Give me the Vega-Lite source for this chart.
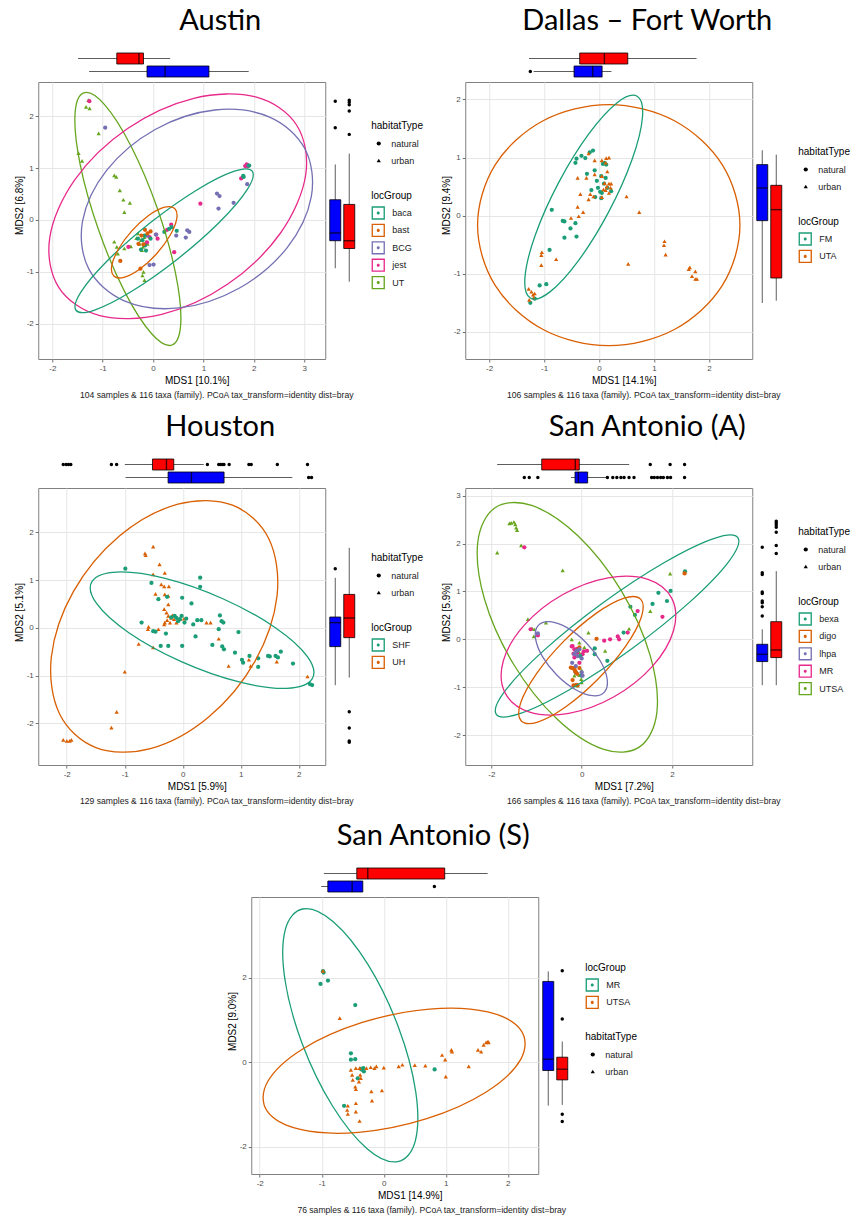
{
  "$schema": "https://vega.github.io/schema/vega-lite/v6.json",
  "background": "white",
  "autosize": {"type": "pad"},
  "padding": {"left": 13, "top": 7, "right": 0, "bottom": 0},
  "config": {
    "font": "Liberation Sans",
    "view": {"stroke": "#808080", "strokeWidth": 1},
    "axis": {"domain": false, "grid": true, "gridColor": "#e6e6e6", "gridWidth": 1, "tickColor": "#4d4d4d", "tickSize": 3, "tickWidth": 0.8, "labelFont": "Liberation Sans", "labelFontSize": 8, "labelColor": "#4d4d4d", "labelPadding": 2, "titleFont": "Liberation Sans", "titleFontSize": 10, "titleFontWeight": "normal", "titleColor": "#000000"},
    "legend": {"titleFont": "Liberation Sans", "titleFontSize": 10, "titleFontWeight": "normal", "titleColor": "#000000", "labelFont": "Liberation Sans", "labelFontSize": 9, "labelColor": "#1a1a1a", "padding": 0},
    "title": {"font": "Liberation Sans", "fontWeight": "normal", "color": "#000000"}
  },
  "datasets": {
    "aus_pts": [
      {"x": -1.285, "y": 2.31, "g": "UT", "h": "urban"}, {"x": -1.33, "y": 2.18, "g": "UT", "h": "urban"}, {"x": -1.26, "y": 2.15, "g": "UT", "h": "urban"}, {"x": -1.08, "y": 1.67, "g": "UT", "h": "urban"}, {"x": -1.48, "y": 1.29, "g": "UT", "h": "urban"}, {"x": -1.41, "y": 1.14, "g": "UT", "h": "urban"}, {"x": -0.77, "y": 0.86, "g": "UT", "h": "urban"}, {"x": -0.73, "y": 0.83, "g": "UT", "h": "urban"}, {"x": -0.66, "y": 0.57, "g": "UT", "h": "urban"}, {"x": -0.59, "y": 0.39, "g": "UT", "h": "urban"}, {"x": -0.46, "y": 0.33, "g": "UT", "h": "urban"}, {"x": -0.57, "y": 0.15, "g": "UT", "h": "urban"}, {"x": -0.77, "y": -0.42, "g": "UT", "h": "urban"}, {"x": -0.72, "y": -0.52, "g": "UT", "h": "urban"}, {"x": -0.7, "y": -0.65, "g": "UT", "h": "urban"}, {"x": -0.57, "y": -0.55, "g": "UT", "h": "urban"}, {"x": -0.44, "y": -0.51, "g": "UT", "h": "urban"}, {"x": -0.3, "y": -0.26, "g": "UT", "h": "urban"}, {"x": -0.24, "y": -0.39, "g": "UT", "h": "urban"}, {"x": -0.21, "y": -1.07, "g": "UT", "h": "urban"}, {"x": -0.17, "y": -1.16, "g": "UT", "h": "urban"}, {"x": -0.27, "y": -0.46, "g": "UT", "h": "urban"}, {"x": -0.17, "y": -0.33, "g": "UT", "h": "urban"}, {"x": -0.11, "y": -0.46, "g": "UT", "h": "urban"}, {"x": -0.2, "y": -0.52, "g": "UT", "h": "urban"}, {"x": -0.14, "y": -0.42, "g": "UT", "h": "urban"}, {"x": -0.22, "y": -0.58, "g": "UT", "h": "urban"}, {"x": -0.33, "y": -0.35, "g": "UT", "h": "urban"}, {"x": -0.19, "y": -1.0, "g": "UT", "h": "urban"},
      {"x": -1.265, "y": 2.29, "g": "jest", "h": "natural"}, {"x": 0.94, "y": 0.315, "g": "jest", "h": "natural"}, {"x": 1.88, "y": 1.035, "g": "jest", "h": "natural"}, {"x": 1.86, "y": 1.07, "g": "jest", "h": "natural"}, {"x": 1.75, "y": 0.8, "g": "jest", "h": "natural"}, {"x": 0.42, "y": -0.62, "g": "jest", "h": "natural"}, {"x": -0.49, "y": -0.52, "g": "jest", "h": "natural"}, {"x": 0.06, "y": -0.28, "g": "jest", "h": "natural"}, {"x": 0.36, "y": -0.09, "g": "jest", "h": "natural"}, {"x": 0.28, "y": -0.19, "g": "jest", "h": "natural"}, {"x": -0.07, "y": -0.33, "g": "jest", "h": "natural"}, {"x": 0.09, "y": -0.36, "g": "jest", "h": "natural"}, {"x": -0.16, "y": -0.48, "g": "jest", "h": "natural"}, {"x": -0.12, "y": -0.43, "g": "jest", "h": "natural"}, {"x": 1.83, "y": 1.04, "g": "jest", "h": "natural"},
      {"x": -0.95, "y": 1.78, "g": "BCG", "h": "natural"}, {"x": 1.27, "y": 0.51, "g": "BCG", "h": "natural"}, {"x": 1.32, "y": 0.46, "g": "BCG", "h": "natural"}, {"x": 1.3, "y": 0.22, "g": "BCG", "h": "natural"}, {"x": 1.6, "y": 0.33, "g": "BCG", "h": "natural"}, {"x": 1.87, "y": 0.69, "g": "BCG", "h": "natural"}, {"x": 1.89, "y": 1.05, "g": "BCG", "h": "natural"}, {"x": 0.68, "y": -0.2, "g": "BCG", "h": "natural"}, {"x": 0.72, "y": -0.23, "g": "BCG", "h": "natural"}, {"x": 0.65, "y": -0.34, "g": "BCG", "h": "natural"}, {"x": 0.46, "y": -0.3, "g": "BCG", "h": "natural"}, {"x": 0.06, "y": -0.28, "g": "BCG", "h": "natural"}, {"x": 0.01, "y": -0.86, "g": "BCG", "h": "natural"}, {"x": -0.07, "y": -0.87, "g": "BCG", "h": "natural"}, {"x": -0.12, "y": -0.3, "g": "BCG", "h": "natural"},
      {"x": 1.8, "y": 0.83, "g": "baca", "h": "natural"}, {"x": 1.79, "y": 0.85, "g": "baca", "h": "natural"}, {"x": 1.91, "y": 1.05, "g": "baca", "h": "natural"}, {"x": 0.47, "y": -0.21, "g": "baca", "h": "natural"}, {"x": 0.32, "y": -0.17, "g": "baca", "h": "natural"}, {"x": 0.225, "y": -0.23, "g": "baca", "h": "natural"}, {"x": -0.17, "y": -0.3, "g": "baca", "h": "natural"}, {"x": -0.21, "y": -0.39, "g": "baca", "h": "natural"}, {"x": -0.16, "y": -0.49, "g": "baca", "h": "natural"}, {"x": -0.24, "y": -0.57, "g": "baca", "h": "natural"}, {"x": -0.14, "y": -0.59, "g": "baca", "h": "natural"}, {"x": -0.3, "y": -0.36, "g": "baca", "h": "natural"}, {"x": -0.05, "y": -0.36, "g": "baca", "h": "natural"}, {"x": 0.37, "y": -0.14, "g": "baca", "h": "natural"},
      {"x": -0.65, "y": -0.79, "g": "bast", "h": "natural"}, {"x": -0.25, "y": -0.94, "g": "bast", "h": "natural"}, {"x": -0.16, "y": -0.19, "g": "bast", "h": "natural"}, {"x": -0.11, "y": -0.26, "g": "bast", "h": "natural"}, {"x": -0.29, "y": -0.46, "g": "bast", "h": "natural"}, {"x": -0.19, "y": -0.47, "g": "bast", "h": "natural"}, {"x": -0.23, "y": -0.3, "g": "bast", "h": "natural"}, {"x": -0.05, "y": -0.22, "g": "bast", "h": "natural"}
    ],
    "aus_ell": [
      {"g": "UT", "i": 0, "x": -1.377, "y": 2.45}, {"g": "UT", "i": 1, "x": -0.968, "y": 2.229}, {"g": "UT", "i": 2, "x": -0.434, "y": 1.417}, {"g": "UT", "i": 3, "x": 0.083, "y": 0.23}, {"g": "UT", "i": 4, "x": 0.444, "y": -1.013}, {"g": "UT", "i": 5, "x": 0.551, "y": -1.979}, {"g": "UT", "i": 6, "x": 0.377, "y": -2.41}, {"g": "UT", "i": 7, "x": -0.032, "y": -2.189}, {"g": "UT", "i": 8, "x": -0.567, "y": -1.377}, {"g": "UT", "i": 9, "x": -1.083, "y": -0.19}, {"g": "UT", "i": 10, "x": -1.444, "y": 1.053}, {"g": "UT", "i": 11, "x": -1.551, "y": 2.019},
      {"g": "jest", "i": 0, "x": 2.85, "y": 1.831}, {"g": "jest", "i": 1, "x": 2.037, "y": 2.371}, {"g": "jest", "i": 2, "x": 0.808, "y": 2.346}, {"g": "jest", "i": 3, "x": -0.505, "y": 1.763}, {"g": "jest", "i": 4, "x": -1.552, "y": 0.779}, {"g": "jest", "i": 5, "x": -2.052, "y": -0.344}, {"g": "jest", "i": 6, "x": -1.87, "y": -1.303}, {"g": "jest", "i": 7, "x": -1.057, "y": -1.843}, {"g": "jest", "i": 8, "x": 0.172, "y": -1.818}, {"g": "jest", "i": 9, "x": 1.485, "y": -1.235}, {"g": "jest", "i": 10, "x": 2.532, "y": -0.251}, {"g": "jest", "i": 11, "x": 3.032, "y": 0.872},
      {"g": "BCG", "i": 0, "x": 3.016, "y": 1.372}, {"g": "BCG", "i": 1, "x": 2.314, "y": 1.983}, {"g": "BCG", "i": 2, "x": 1.226, "y": 2.12}, {"g": "BCG", "i": 3, "x": 0.042, "y": 1.745}, {"g": "BCG", "i": 4, "x": -0.919, "y": 0.96}, {"g": "BCG", "i": 5, "x": -1.401, "y": -0.026}, {"g": "BCG", "i": 6, "x": -1.274, "y": -0.948}, {"g": "BCG", "i": 7, "x": -0.572, "y": -1.559}, {"g": "BCG", "i": 8, "x": 0.516, "y": -1.696}, {"g": "BCG", "i": 9, "x": 1.7, "y": -1.321}, {"g": "BCG", "i": 10, "x": 2.661, "y": -0.536}, {"g": "BCG", "i": 11, "x": 3.143, "y": 0.45},
      {"g": "baca", "i": 0, "x": 1.97, "y": 0.94}, {"g": "baca", "i": 1, "x": 1.601, "y": 0.936}, {"g": "baca", "i": 2, "x": 0.862, "y": 0.574}, {"g": "baca", "i": 3, "x": -0.049, "y": -0.049}, {"g": "baca", "i": 4, "x": -0.888, "y": -0.766}, {"g": "baca", "i": 5, "x": -1.43, "y": -1.385}, {"g": "baca", "i": 6, "x": -1.53, "y": -1.74}, {"g": "baca", "i": 7, "x": -1.161, "y": -1.736}, {"g": "baca", "i": 8, "x": -0.422, "y": -1.374}, {"g": "baca", "i": 9, "x": 0.489, "y": -0.751}, {"g": "baca", "i": 10, "x": 1.328, "y": -0.034}, {"g": "baca", "i": 11, "x": 1.87, "y": 0.585},
      {"g": "bast", "i": 0, "x": 0.43, "y": 0.22}, {"g": "bast", "i": 1, "x": 0.228, "y": 0.246}, {"g": "bast", "i": 2, "x": -0.082, "y": 0.09}, {"g": "bast", "i": 3, "x": -0.417, "y": -0.205}, {"g": "bast", "i": 4, "x": -0.687, "y": -0.56}, {"g": "bast", "i": 5, "x": -0.82, "y": -0.881}, {"g": "bast", "i": 6, "x": -0.78, "y": -1.08}, {"g": "bast", "i": 7, "x": -0.578, "y": -1.106}, {"g": "bast", "i": 8, "x": -0.268, "y": -0.95}, {"g": "bast", "i": 9, "x": 0.067, "y": -0.655}, {"g": "bast", "i": 10, "x": 0.337, "y": -0.3}, {"g": "bast", "i": 11, "x": 0.47, "y": 0.021}
    ],
    "aus_box": [
      {"ax": "MDS1", "h": "natural", "lo": -1.27, "q1": -0.12, "med": 0.24, "q3": 1.11, "hi": 1.9},
      {"ax": "MDS1", "h": "urban", "lo": -1.49, "q1": -0.72, "med": -0.28, "q3": -0.19, "hi": 0.34},
      {"ax": "MDS2", "h": "natural", "lo": -0.93, "q1": -0.4, "med": -0.25, "q3": 0.39, "hi": 1.07},
      {"ax": "MDS2", "h": "urban", "lo": -1.19, "q1": -0.55, "med": -0.4, "q3": 0.3, "hi": 1.28}
    ],
    "aus_out": [
      {"ax": "MDS2", "h": "natural", "v": 2.29}, {"ax": "MDS2", "h": "natural", "v": 1.78},
      {"ax": "MDS2", "h": "urban", "v": 2.31}, {"ax": "MDS2", "h": "urban", "v": 2.27}, {"ax": "MDS2", "h": "urban", "v": 2.22}, {"ax": "MDS2", "h": "urban", "v": 2.1}, {"ax": "MDS2", "h": "urban", "v": 1.65}
    ],
    "dfw_pts": [
      {"x": -0.41, "y": 0.98, "g": "FM", "h": "natural"}, {"x": -0.43, "y": 0.91, "g": "FM", "h": "natural"}, {"x": -0.32, "y": 1.03, "g": "FM", "h": "natural"}, {"x": -0.25, "y": 0.99, "g": "FM", "h": "natural"}, {"x": -0.17, "y": 1.09, "g": "FM", "h": "natural"}, {"x": -0.11, "y": 1.12, "g": "FM", "h": "natural"}, {"x": -0.22, "y": 0.72, "g": "FM", "h": "natural"}, {"x": -0.04, "y": 0.6, "g": "FM", "h": "natural"}, {"x": -0.02, "y": 0.48, "g": "FM", "h": "natural"}, {"x": 0.02, "y": 0.41, "g": "FM", "h": "natural"}, {"x": 0.12, "y": 0.65, "g": "FM", "h": "natural"}, {"x": 0.05, "y": 0.39, "g": "FM", "h": "natural"}, {"x": 0.15, "y": 0.48, "g": "FM", "h": "natural"}, {"x": 0.22, "y": 0.42, "g": "FM", "h": "natural"}, {"x": -0.07, "y": 0.32, "g": "FM", "h": "natural"}, {"x": 0.04, "y": 0.3, "g": "FM", "h": "natural"}, {"x": 0.04, "y": 0.68, "g": "FM", "h": "natural"}, {"x": 0.07, "y": 0.89, "g": "FM", "h": "natural"}, {"x": 0.1, "y": 0.91, "g": "FM", "h": "natural"}, {"x": -0.86, "y": 0.1, "g": "FM", "h": "natural"}, {"x": -0.66, "y": -0.09, "g": "FM", "h": "natural"}, {"x": -0.63, "y": -0.1, "g": "FM", "h": "natural"}, {"x": -0.43, "y": -0.13, "g": "FM", "h": "natural"}, {"x": -0.52, "y": -0.22, "g": "FM", "h": "natural"}, {"x": -0.41, "y": -0.36, "g": "FM", "h": "natural"}, {"x": -0.63, "y": -0.38, "g": "FM", "h": "natural"}, {"x": -0.9, "y": -0.59, "g": "FM", "h": "natural"}, {"x": -1.08, "y": -1.2, "g": "FM", "h": "natural"}, {"x": -0.96, "y": -1.18, "g": "FM", "h": "natural"}, {"x": -1.17, "y": -1.43, "g": "FM", "h": "natural"}, {"x": -1.25, "y": -1.5, "g": "FM", "h": "natural"}, {"x": -0.08, "y": 0.78, "g": "FM", "h": "natural"}, {"x": -0.14, "y": 0.44, "g": "FM", "h": "natural"}, {"x": 0.13, "y": 0.88, "g": "FM", "h": "natural"}, {"x": 0.09, "y": 0.55, "g": "FM", "h": "natural"},
      {"x": -0.19, "y": 1.07, "g": "UTA", "h": "urban"}, {"x": 0.05, "y": 0.95, "g": "UTA", "h": "urban"}, {"x": 0.13, "y": 0.99, "g": "UTA", "h": "urban"}, {"x": 0.18, "y": 1.0, "g": "UTA", "h": "urban"}, {"x": 0.12, "y": 0.91, "g": "UTA", "h": "urban"}, {"x": -0.08, "y": 0.95, "g": "UTA", "h": "urban"}, {"x": -0.39, "y": 0.65, "g": "UTA", "h": "urban"}, {"x": -0.23, "y": 0.65, "g": "UTA", "h": "urban"}, {"x": -0.08, "y": 0.71, "g": "UTA", "h": "urban"}, {"x": 0.05, "y": 0.68, "g": "UTA", "h": "urban"}, {"x": 0.15, "y": 0.76, "g": "UTA", "h": "urban"}, {"x": 0.1, "y": 0.56, "g": "UTA", "h": "urban"}, {"x": 0.18, "y": 0.55, "g": "UTA", "h": "urban"}, {"x": 0.21, "y": 0.48, "g": "UTA", "h": "urban"}, {"x": 0.22, "y": 0.55, "g": "UTA", "h": "urban"}, {"x": 0.12, "y": 0.44, "g": "UTA", "h": "urban"}, {"x": 0.18, "y": 0.39, "g": "UTA", "h": "urban"}, {"x": -0.34, "y": 0.37, "g": "UTA", "h": "urban"}, {"x": -0.16, "y": 0.37, "g": "UTA", "h": "urban"}, {"x": -0.19, "y": 0.28, "g": "UTA", "h": "urban"}, {"x": -0.1, "y": 0.33, "g": "UTA", "h": "urban"}, {"x": 0.05, "y": 0.32, "g": "UTA", "h": "urban"}, {"x": 0.5, "y": 0.33, "g": "UTA", "h": "urban"}, {"x": 0.73, "y": 0.06, "g": "UTA", "h": "urban"}, {"x": -0.39, "y": 0.15, "g": "UTA", "h": "urban"}, {"x": -0.29, "y": 0.06, "g": "UTA", "h": "urban"}, {"x": -0.37, "y": -0.01, "g": "UTA", "h": "urban"}, {"x": -0.51, "y": -0.04, "g": "UTA", "h": "urban"}, {"x": -1.04, "y": -0.63, "g": "UTA", "h": "urban"}, {"x": -1.05, "y": -0.68, "g": "UTA", "h": "urban"}, {"x": -1.05, "y": -0.85, "g": "UTA", "h": "urban"}, {"x": -0.78, "y": -0.75, "g": "UTA", "h": "urban"}, {"x": 0.53, "y": -0.83, "g": "UTA", "h": "urban"}, {"x": 1.19, "y": -0.44, "g": "UTA", "h": "urban"}, {"x": 1.18, "y": -0.51, "g": "UTA", "h": "urban"}, {"x": 1.21, "y": -0.67, "g": "UTA", "h": "urban"}, {"x": 1.63, "y": -0.92, "g": "UTA", "h": "urban"}, {"x": 1.65, "y": -0.89, "g": "UTA", "h": "urban"}, {"x": 1.69, "y": -1.04, "g": "UTA", "h": "urban"}, {"x": 1.75, "y": -0.96, "g": "UTA", "h": "urban"}, {"x": 1.75, "y": -1.09, "g": "UTA", "h": "urban"}, {"x": 1.78, "y": -1.09, "g": "UTA", "h": "urban"}, {"x": -1.28, "y": -1.26, "g": "UTA", "h": "urban"}, {"x": -1.23, "y": -1.31, "g": "UTA", "h": "urban"}, {"x": -1.2, "y": -1.36, "g": "UTA", "h": "urban"}, {"x": -1.17, "y": -1.34, "g": "UTA", "h": "urban"}, {"x": -1.27, "y": -1.45, "g": "UTA", "h": "urban"}, {"x": -1.19, "y": -1.41, "g": "UTA", "h": "urban"}, {"x": 0.14, "y": 0.5, "g": "UTA", "h": "urban"}, {"x": 0.08, "y": 0.45, "g": "UTA", "h": "urban"}
    ],
    "dfw_ell": [
      {"g": "UTA", "i": 0, "x": 2.561, "y": -0.163}, {"g": "UTA", "i": 1, "x": 2.241, "y": 0.875}, {"g": "UTA", "i": 2, "x": 1.369, "y": 1.634}, {"g": "UTA", "i": 3, "x": 0.176, "y": 1.912}, {"g": "UTA", "i": 4, "x": -1.017, "y": 1.634}, {"g": "UTA", "i": 5, "x": -1.889, "y": 0.875}, {"g": "UTA", "i": 6, "x": -2.209, "y": -0.163}, {"g": "UTA", "i": 7, "x": -1.889, "y": -1.201}, {"g": "UTA", "i": 8, "x": -1.017, "y": -1.96}, {"g": "UTA", "i": 9, "x": 0.176, "y": -2.238}, {"g": "UTA", "i": 10, "x": 1.369, "y": -1.96}, {"g": "UTA", "i": 11, "x": 2.241, "y": -1.201},
      {"g": "FM", "i": 0, "x": 0.692, "y": 2.054}, {"g": "FM", "i": 1, "x": 0.335, "y": 1.948}, {"g": "FM", "i": 2, "x": -0.187, "y": 1.406}, {"g": "FM", "i": 3, "x": -0.733, "y": 0.572}, {"g": "FM", "i": 4, "x": -1.158, "y": -0.33}, {"g": "FM", "i": 5, "x": -1.347, "y": -1.058}, {"g": "FM", "i": 6, "x": -1.25, "y": -1.418}, {"g": "FM", "i": 7, "x": -0.893, "y": -1.312}, {"g": "FM", "i": 8, "x": -0.371, "y": -0.77}, {"g": "FM", "i": 9, "x": 0.175, "y": 0.064}, {"g": "FM", "i": 10, "x": 0.6, "y": 0.966}, {"g": "FM", "i": 11, "x": 0.789, "y": 1.694}
    ],
    "dfw_box": [
      {"ax": "MDS1", "h": "natural", "lo": -1.19, "q1": -0.455, "med": -0.115, "q3": 0.055, "hi": 0.225},
      {"ax": "MDS1", "h": "urban", "lo": -1.274, "q1": -0.352, "med": 0.097, "q3": 0.522, "hi": 1.772},
      {"ax": "MDS2", "h": "natural", "lo": -1.503, "q1": -0.086, "med": 0.476, "q3": 0.878, "hi": 1.125},
      {"ax": "MDS2", "h": "urban", "lo": -1.463, "q1": -1.073, "med": 0.103, "q3": 0.522, "hi": 1.05}
    ],
    "dfw_out": [
      {"ax": "MDS1", "h": "natural", "v": -1.25}
    ],
    "hou_pts": [
      {"x": -0.51, "y": 1.7, "g": "UH", "h": "urban"}, {"x": -0.65, "y": 1.56, "g": "UH", "h": "urban"}, {"x": -0.64, "y": 1.52, "g": "UH", "h": "urban"}, {"x": -0.4, "y": 1.33, "g": "UH", "h": "urban"}, {"x": -0.51, "y": 1.12, "g": "UH", "h": "urban"}, {"x": -0.31, "y": 1.15, "g": "UH", "h": "urban"}, {"x": -0.37, "y": 0.91, "g": "UH", "h": "urban"}, {"x": -0.32, "y": 0.87, "g": "UH", "h": "urban"}, {"x": -0.24, "y": 0.87, "g": "UH", "h": "urban"}, {"x": -0.47, "y": 0.71, "g": "UH", "h": "urban"}, {"x": -0.31, "y": 0.7, "g": "UH", "h": "urban"}, {"x": -0.25, "y": 0.67, "g": "UH", "h": "urban"}, {"x": -0.25, "y": 0.49, "g": "UH", "h": "urban"}, {"x": -0.32, "y": 0.39, "g": "UH", "h": "urban"}, {"x": -0.28, "y": 0.32, "g": "UH", "h": "urban"}, {"x": -0.25, "y": 0.25, "g": "UH", "h": "urban"}, {"x": -0.2, "y": 0.21, "g": "UH", "h": "urban"}, {"x": -0.15, "y": 0.18, "g": "UH", "h": "urban"}, {"x": -0.22, "y": 0.11, "g": "UH", "h": "urban"}, {"x": -0.11, "y": 0.11, "g": "UH", "h": "urban"}, {"x": -0.05, "y": 0.18, "g": "UH", "h": "urban"}, {"x": 0.02, "y": 0.19, "g": "UH", "h": "urban"}, {"x": -0.31, "y": 0.11, "g": "UH", "h": "urban"}, {"x": -0.59, "y": 0.02, "g": "UH", "h": "urban"}, {"x": -0.42, "y": -0.03, "g": "UH", "h": "urban"}, {"x": -0.6, "y": -0.03, "g": "UH", "h": "urban"}, {"x": -0.76, "y": -0.34, "g": "UH", "h": "urban"}, {"x": -0.51, "y": -0.41, "g": "UH", "h": "urban"}, {"x": 0.41, "y": 0.11, "g": "UH", "h": "urban"}, {"x": 0.48, "y": 0.11, "g": "UH", "h": "urban"}, {"x": 0.62, "y": -0.23, "g": "UH", "h": "urban"}, {"x": 0.79, "y": -0.8, "g": "UH", "h": "urban"}, {"x": 1.14, "y": -0.67, "g": "UH", "h": "urban"}, {"x": 1.17, "y": -0.8, "g": "UH", "h": "urban"}, {"x": 1.62, "y": -0.71, "g": "UH", "h": "urban"}, {"x": 2.15, "y": -1.02, "g": "UH", "h": "urban"}, {"x": -1.0, "y": -0.92, "g": "UH", "h": "urban"}, {"x": -1.14, "y": -1.76, "g": "UH", "h": "urban"}, {"x": -1.23, "y": -2.09, "g": "UH", "h": "urban"}, {"x": -2.06, "y": -2.35, "g": "UH", "h": "urban"}, {"x": -2.0, "y": -2.37, "g": "UH", "h": "urban"}, {"x": -1.95, "y": -2.37, "g": "UH", "h": "urban"}, {"x": -1.92, "y": -2.35, "g": "UH", "h": "urban"}, {"x": -0.32, "y": 0.07, "g": "UH", "h": "urban"}, {"x": -0.18, "y": 0.26, "g": "UH", "h": "urban"}, {"x": -0.27, "y": 0.16, "g": "UH", "h": "urban"},
      {"x": -0.99, "y": 1.24, "g": "SHF", "h": "natural"}, {"x": -0.54, "y": 0.94, "g": "SHF", "h": "natural"}, {"x": -0.42, "y": 0.6, "g": "SHF", "h": "natural"}, {"x": -0.27, "y": 0.65, "g": "SHF", "h": "natural"}, {"x": -0.01, "y": 0.63, "g": "SHF", "h": "natural"}, {"x": 0.15, "y": 0.51, "g": "SHF", "h": "natural"}, {"x": 0.3, "y": 1.05, "g": "SHF", "h": "natural"}, {"x": 0.3, "y": 0.86, "g": "SHF", "h": "natural"}, {"x": -0.71, "y": 0.11, "g": "SHF", "h": "natural"}, {"x": -0.51, "y": -0.07, "g": "SHF", "h": "natural"}, {"x": -0.47, "y": -0.08, "g": "SHF", "h": "natural"}, {"x": -0.29, "y": -0.12, "g": "SHF", "h": "natural"}, {"x": -0.38, "y": -0.38, "g": "SHF", "h": "natural"}, {"x": -0.25, "y": -0.38, "g": "SHF", "h": "natural"}, {"x": -0.01, "y": -0.38, "g": "SHF", "h": "natural"}, {"x": -0.11, "y": 0.21, "g": "SHF", "h": "natural"}, {"x": -0.05, "y": 0.18, "g": "SHF", "h": "natural"}, {"x": 0.03, "y": 0.11, "g": "SHF", "h": "natural"}, {"x": -0.14, "y": 0.25, "g": "SHF", "h": "natural"}, {"x": 0.18, "y": 0.07, "g": "SHF", "h": "natural"}, {"x": 0.25, "y": 0.16, "g": "SHF", "h": "natural"}, {"x": 0.32, "y": 0.16, "g": "SHF", "h": "natural"}, {"x": 0.22, "y": -0.18, "g": "SHF", "h": "natural"}, {"x": 0.51, "y": -0.36, "g": "SHF", "h": "natural"}, {"x": 0.64, "y": 0.26, "g": "SHF", "h": "natural"}, {"x": 0.67, "y": 0.14, "g": "SHF", "h": "natural"}, {"x": 0.7, "y": 0.11, "g": "SHF", "h": "natural"}, {"x": 0.62, "y": -0.03, "g": "SHF", "h": "natural"}, {"x": 0.68, "y": -0.39, "g": "SHF", "h": "natural"}, {"x": 0.71, "y": -0.45, "g": "SHF", "h": "natural"}, {"x": 0.9, "y": -0.52, "g": "SHF", "h": "natural"}, {"x": 0.96, "y": -0.09, "g": "SHF", "h": "natural"}, {"x": 1.02, "y": -0.67, "g": "SHF", "h": "natural"}, {"x": 1.04, "y": -0.73, "g": "SHF", "h": "natural"}, {"x": 1.15, "y": -0.59, "g": "SHF", "h": "natural"}, {"x": 1.3, "y": -0.82, "g": "SHF", "h": "natural"}, {"x": 1.3, "y": -0.64, "g": "SHF", "h": "natural"}, {"x": 1.47, "y": -0.59, "g": "SHF", "h": "natural"}, {"x": 1.5, "y": -0.6, "g": "SHF", "h": "natural"}, {"x": 1.6, "y": -0.59, "g": "SHF", "h": "natural"}, {"x": 1.64, "y": -0.62, "g": "SHF", "h": "natural"}, {"x": 1.69, "y": -0.5, "g": "SHF", "h": "natural"}, {"x": 1.9, "y": -0.75, "g": "SHF", "h": "natural"}, {"x": 2.19, "y": -1.18, "g": "SHF", "h": "natural"}, {"x": 2.23, "y": -1.2, "g": "SHF", "h": "natural"}, {"x": 0.06, "y": 0.19, "g": "SHF", "h": "natural"}, {"x": -0.02, "y": 0.25, "g": "SHF", "h": "natural"}, {"x": -0.2, "y": 0.22, "g": "SHF", "h": "natural"}, {"x": -0.08, "y": 0.14, "g": "SHF", "h": "natural"}
    ],
    "hou_ell": [
      {"g": "UH", "i": 0, "x": 0.858, "y": 2.569}, {"g": "UH", "i": 1, "x": -0.083, "y": 2.592}, {"g": "UH", "i": 2, "x": -1.087, "y": 1.929}, {"g": "UH", "i": 3, "x": -1.886, "y": 0.757}, {"g": "UH", "i": 4, "x": -2.265, "y": -0.61}, {"g": "UH", "i": 5, "x": -2.123, "y": -1.805}, {"g": "UH", "i": 6, "x": -1.498, "y": -2.509}, {"g": "UH", "i": 7, "x": -0.557, "y": -2.532}, {"g": "UH", "i": 8, "x": 0.447, "y": -1.869}, {"g": "UH", "i": 9, "x": 1.246, "y": -0.697}, {"g": "UH", "i": 10, "x": 1.625, "y": 0.67}, {"g": "UH", "i": 11, "x": 1.483, "y": 1.865},
      {"g": "SHF", "i": 0, "x": 2.227, "y": -1.077}, {"g": "SHF", "i": 1, "x": 2.152, "y": -0.61}, {"g": "SHF", "i": 2, "x": 1.59, "y": 0.008}, {"g": "SHF", "i": 3, "x": 0.691, "y": 0.609}, {"g": "SHF", "i": 4, "x": -0.304, "y": 1.035}, {"g": "SHF", "i": 5, "x": -1.128, "y": 1.169}, {"g": "SHF", "i": 6, "x": -1.561, "y": 0.977}, {"g": "SHF", "i": 7, "x": -1.486, "y": 0.51}, {"g": "SHF", "i": 8, "x": -0.924, "y": -0.108}, {"g": "SHF", "i": 9, "x": -0.025, "y": -0.709}, {"g": "SHF", "i": 10, "x": 0.97, "y": -1.135}, {"g": "SHF", "i": 11, "x": 1.794, "y": -1.269}
    ],
    "hou_box": [
      {"ax": "MDS1", "h": "natural", "lo": -0.987, "q1": -0.253, "med": 0.149, "q3": 0.712, "hi": 1.888},
      {"ax": "MDS1", "h": "urban", "lo": -0.999, "q1": -0.522, "med": -0.281, "q3": -0.155, "hi": 0.362},
      {"ax": "MDS2", "h": "natural", "lo": -1.202, "q1": -0.394, "med": 0.108, "q3": 0.226, "hi": 1.049},
      {"ax": "MDS2", "h": "urban", "lo": -1.042, "q1": -0.206, "med": 0.206, "q3": 0.7, "hi": 1.676}
    ],
    "hou_out": [
      {"ax": "MDS1", "h": "urban", "v": -2.06}, {"ax": "MDS1", "h": "urban", "v": -2.01}, {"ax": "MDS1", "h": "urban", "v": -1.97}, {"ax": "MDS1", "h": "urban", "v": -1.93}, {"ax": "MDS1", "h": "urban", "v": -1.23}, {"ax": "MDS1", "h": "urban", "v": -1.14}, {"ax": "MDS1", "h": "urban", "v": 0.425}, {"ax": "MDS1", "h": "urban", "v": 0.62}, {"ax": "MDS1", "h": "urban", "v": 0.65}, {"ax": "MDS1", "h": "urban", "v": 0.68}, {"ax": "MDS1", "h": "urban", "v": 0.71}, {"ax": "MDS1", "h": "urban", "v": 0.8}, {"ax": "MDS1", "h": "urban", "v": 1.14}, {"ax": "MDS1", "h": "urban", "v": 1.18}, {"ax": "MDS1", "h": "urban", "v": 1.63}, {"ax": "MDS1", "h": "urban", "v": 2.15},
      {"ax": "MDS1", "h": "natural", "v": 2.17}, {"ax": "MDS1", "h": "natural", "v": 2.22},
      {"ax": "MDS2", "h": "natural", "v": 1.237},
      {"ax": "MDS2", "h": "urban", "v": -1.76}, {"ax": "MDS2", "h": "urban", "v": -2.1}, {"ax": "MDS2", "h": "urban", "v": -2.37}, {"ax": "MDS2", "h": "urban", "v": -2.4}
    ],
    "saa_pts": [
      {"x": -1.56, "y": 2.43, "g": "UTSA", "h": "urban"}, {"x": -1.5, "y": 2.45, "g": "UTSA", "h": "urban"}, {"x": -1.47, "y": 2.4, "g": "UTSA", "h": "urban"}, {"x": -1.45, "y": 2.33, "g": "UTSA", "h": "urban"}, {"x": -1.43, "y": 2.28, "g": "UTSA", "h": "urban"}, {"x": -1.6, "y": 2.42, "g": "UTSA", "h": "urban"}, {"x": -1.34, "y": 1.96, "g": "UTSA", "h": "urban"}, {"x": -1.87, "y": 1.81, "g": "UTSA", "h": "urban"}, {"x": -0.42, "y": 1.44, "g": "UTSA", "h": "urban"}, {"x": -1.19, "y": 0.42, "g": "UTSA", "h": "urban"}, {"x": -1.1, "y": 0.23, "g": "UTSA", "h": "urban"}, {"x": -1.05, "y": 0.21, "g": "UTSA", "h": "urban"}, {"x": -1.06, "y": 0.06, "g": "UTSA", "h": "urban"}, {"x": -0.79, "y": 0.35, "g": "UTSA", "h": "urban"}, {"x": 0.15, "y": 0.14, "g": "UTSA", "h": "urban"}, {"x": 0.52, "y": -0.24, "g": "UTSA", "h": "urban"}, {"x": 1.05, "y": 0.22, "g": "UTSA", "h": "urban"}, {"x": 1.52, "y": 0.59, "g": "UTSA", "h": "urban"}, {"x": 1.96, "y": 1.37, "g": "UTSA", "h": "urban"}, {"x": 2.28, "y": 1.42, "g": "UTSA", "h": "urban"}, {"x": -0.22, "y": 0.0, "g": "UTSA", "h": "urban"}, {"x": -0.05, "y": -0.07, "g": "UTSA", "h": "urban"}, {"x": 0.06, "y": -0.17, "g": "UTSA", "h": "urban"}, {"x": -0.16, "y": -0.76, "g": "UTSA", "h": "urban"}, {"x": -0.01, "y": -0.83, "g": "UTSA", "h": "urban"}, {"x": -0.09, "y": -0.97, "g": "UTSA", "h": "urban"}, {"x": -0.1, "y": -0.2, "g": "UTSA", "h": "urban"}, {"x": -0.05, "y": -0.28, "g": "UTSA", "h": "urban"}, {"x": 0.0, "y": -0.65, "g": "UTSA", "h": "urban"}, {"x": -0.05, "y": -0.75, "g": "UTSA", "h": "urban"}, {"x": 0.0, "y": -0.9, "g": "UTSA", "h": "urban"},
      {"x": -1.27, "y": 1.92, "g": "MR", "h": "natural"}, {"x": -1.13, "y": 0.21, "g": "MR", "h": "natural"}, {"x": -0.97, "y": 0.08, "g": "MR", "h": "natural"}, {"x": -0.2, "y": -0.14, "g": "MR", "h": "natural"}, {"x": -0.1, "y": -0.28, "g": "MR", "h": "natural"}, {"x": 0.02, "y": -0.31, "g": "MR", "h": "natural"}, {"x": 0.12, "y": -0.24, "g": "MR", "h": "natural"}, {"x": -0.16, "y": -0.38, "g": "MR", "h": "natural"}, {"x": -0.05, "y": -0.49, "g": "MR", "h": "natural"}, {"x": 0.5, "y": -0.03, "g": "MR", "h": "natural"}, {"x": 0.63, "y": 0.0, "g": "MR", "h": "natural"}, {"x": 0.8, "y": 0.06, "g": "MR", "h": "natural"}, {"x": 0.83, "y": 0.0, "g": "MR", "h": "natural"}, {"x": 1.02, "y": 0.14, "g": "MR", "h": "natural"}, {"x": 1.24, "y": 0.59, "g": "MR", "h": "natural"}, {"x": 1.79, "y": 0.47, "g": "MR", "h": "natural"}, {"x": -0.16, "y": -0.21, "g": "MR", "h": "natural"}, {"x": -0.22, "y": -0.15, "g": "MR", "h": "natural"}, {"x": -0.1, "y": -0.2, "g": "MR", "h": "natural"}, {"x": 0.05, "y": -0.25, "g": "MR", "h": "natural"}, {"x": -0.18, "y": -0.3, "g": "MR", "h": "natural"},
      {"x": 1.08, "y": 0.68, "g": "bexa", "h": "natural"}, {"x": 1.18, "y": 0.51, "g": "bexa", "h": "natural"}, {"x": 1.7, "y": 0.97, "g": "bexa", "h": "natural"}, {"x": 1.57, "y": 0.74, "g": "bexa", "h": "natural"}, {"x": 1.89, "y": 0.8, "g": "bexa", "h": "natural"}, {"x": 1.97, "y": 1.01, "g": "bexa", "h": "natural"}, {"x": 2.29, "y": 1.42, "g": "bexa", "h": "natural"}, {"x": 0.93, "y": 0.14, "g": "bexa", "h": "natural"}, {"x": 0.29, "y": -0.19, "g": "bexa", "h": "natural"}, {"x": 0.29, "y": -0.31, "g": "bexa", "h": "natural"}, {"x": 0.57, "y": -0.45, "g": "bexa", "h": "natural"}, {"x": -0.03, "y": -0.35, "g": "bexa", "h": "natural"}, {"x": -0.13, "y": -0.69, "g": "bexa", "h": "natural"}, {"x": 0.0, "y": -0.76, "g": "bexa", "h": "natural"}, {"x": -0.1, "y": -0.24, "g": "bexa", "h": "natural"},
      {"x": 0.33, "y": 0.01, "g": "digo", "h": "natural"}, {"x": 2.28, "y": 1.375, "g": "digo", "h": "natural"}, {"x": -0.16, "y": -0.6, "g": "digo", "h": "natural"}, {"x": -0.13, "y": -0.69, "g": "digo", "h": "natural"}, {"x": -0.18, "y": -0.96, "g": "digo", "h": "natural"}, {"x": -0.09, "y": -0.96, "g": "digo", "h": "natural"}, {"x": -0.24, "y": -0.59, "g": "digo", "h": "natural"}, {"x": -0.05, "y": -0.17, "g": "digo", "h": "natural"}, {"x": -0.2, "y": -0.6, "g": "digo", "h": "natural"}, {"x": -0.15, "y": -0.65, "g": "digo", "h": "natural"}, {"x": -0.1, "y": -0.72, "g": "digo", "h": "natural"}, {"x": -0.2, "y": -0.85, "g": "digo", "h": "natural"}, {"x": -0.12, "y": -0.95, "g": "digo", "h": "natural"}, {"x": -0.05, "y": -0.6, "g": "digo", "h": "natural"},
      {"x": -0.16, "y": -0.31, "g": "lhpa", "h": "natural"}, {"x": -0.09, "y": -0.35, "g": "lhpa", "h": "natural"}, {"x": -0.05, "y": -0.21, "g": "lhpa", "h": "natural"}, {"x": 0.0, "y": -0.69, "g": "lhpa", "h": "natural"}, {"x": -0.21, "y": -0.49, "g": "lhpa", "h": "natural"}, {"x": -0.13, "y": -0.56, "g": "lhpa", "h": "natural"}, {"x": 0.02, "y": -0.76, "g": "lhpa", "h": "natural"}, {"x": -0.97, "y": 0.125, "g": "lhpa", "h": "natural"}, {"x": -0.12, "y": -0.25, "g": "lhpa", "h": "natural"}, {"x": 0.0, "y": -0.4, "g": "lhpa", "h": "natural"}
    ],
    "saa_ell": [
      {"g": "UTSA", "i": 0, "x": 1.283, "y": -2.247}, {"g": "UTSA", "i": 1, "x": 1.666, "y": -1.53}, {"g": "UTSA", "i": 2, "x": 1.517, "y": -0.336}, {"g": "UTSA", "i": 3, "x": 0.877, "y": 1.015}, {"g": "UTSA", "i": 4, "x": -0.083, "y": 2.161}, {"g": "UTSA", "i": 5, "x": -1.106, "y": 2.795}, {"g": "UTSA", "i": 6, "x": -1.917, "y": 2.747}, {"g": "UTSA", "i": 7, "x": -2.3, "y": 2.03}, {"g": "UTSA", "i": 8, "x": -2.151, "y": 0.836}, {"g": "UTSA", "i": 9, "x": -1.511, "y": -0.515}, {"g": "UTSA", "i": 10, "x": -0.551, "y": -1.661}, {"g": "UTSA", "i": 11, "x": 0.472, "y": -2.295},
      {"g": "bexa", "i": 0, "x": 3.463, "y": 2.118}, {"g": "bexa", "i": 1, "x": 2.941, "y": 2.109}, {"g": "bexa", "i": 2, "x": 1.842, "y": 1.609}, {"g": "bexa", "i": 3, "x": 0.459, "y": 0.753}, {"g": "bexa", "i": 4, "x": -0.836, "y": -0.231}, {"g": "bexa", "i": 5, "x": -1.697, "y": -1.078}, {"g": "bexa", "i": 6, "x": -1.893, "y": -1.562}, {"g": "bexa", "i": 7, "x": -1.371, "y": -1.553}, {"g": "bexa", "i": 8, "x": -0.272, "y": -1.053}, {"g": "bexa", "i": 9, "x": 1.111, "y": -0.197}, {"g": "bexa", "i": 10, "x": 2.406, "y": 0.787}, {"g": "bexa", "i": 11, "x": 3.267, "y": 1.634},
      {"g": "MR", "i": 0, "x": 2.0, "y": 0.85}, {"g": "MR", "i": 1, "x": 1.469, "y": 1.252}, {"g": "MR", "i": 2, "x": 0.585, "y": 1.284}, {"g": "MR", "i": 3, "x": -0.416, "y": 0.936}, {"g": "MR", "i": 4, "x": -1.265, "y": 0.302}, {"g": "MR", "i": 5, "x": -1.734, "y": -0.448}, {"g": "MR", "i": 6, "x": -1.698, "y": -1.114}, {"g": "MR", "i": 7, "x": -1.167, "y": -1.516}, {"g": "MR", "i": 8, "x": -0.283, "y": -1.548}, {"g": "MR", "i": 9, "x": 0.718, "y": -1.2}, {"g": "MR", "i": 10, "x": 1.567, "y": -0.566}, {"g": "MR", "i": 11, "x": 2.036, "y": 0.184},
      {"g": "digo", "i": 0, "x": 1.311, "y": 0.833}, {"g": "digo", "i": 1, "x": 0.944, "y": 0.861}, {"g": "digo", "i": 2, "x": 0.32, "y": 0.542}, {"g": "digo", "i": 3, "x": -0.394, "y": -0.038}, {"g": "digo", "i": 4, "x": -1.006, "y": -0.725}, {"g": "digo", "i": 5, "x": -1.353, "y": -1.333}, {"g": "digo", "i": 6, "x": -1.341, "y": -1.701}, {"g": "digo", "i": 7, "x": -0.974, "y": -1.729}, {"g": "digo", "i": 8, "x": -0.35, "y": -1.41}, {"g": "digo", "i": 9, "x": 0.364, "y": -0.83}, {"g": "digo", "i": 10, "x": 0.976, "y": -0.143}, {"g": "digo", "i": 11, "x": 1.323, "y": 0.465},
      {"g": "lhpa", "i": 0, "x": 0.504, "y": -1.102}, {"g": "lhpa", "i": 1, "x": 0.567, "y": -0.839}, {"g": "lhpa", "i": 2, "x": 0.418, "y": -0.459}, {"g": "lhpa", "i": 3, "x": 0.095, "y": -0.065}, {"g": "lhpa", "i": 4, "x": -0.314, "y": 0.238}, {"g": "lhpa", "i": 5, "x": -0.7, "y": 0.368}, {"g": "lhpa", "i": 6, "x": -0.96, "y": 0.292}, {"g": "lhpa", "i": 7, "x": -1.023, "y": 0.029}, {"g": "lhpa", "i": 8, "x": -0.874, "y": -0.351}, {"g": "lhpa", "i": 9, "x": -0.551, "y": -0.745}, {"g": "lhpa", "i": 10, "x": -0.142, "y": -1.048}, {"g": "lhpa", "i": 11, "x": 0.244, "y": -1.178}
    ],
    "saa_box": [
      {"ax": "MDS1", "h": "natural", "lo": -0.236, "q1": -0.147, "med": -0.074, "q3": 0.133, "hi": 0.538},
      {"ax": "MDS1", "h": "urban", "lo": -1.871, "q1": -0.884, "med": -0.14, "q3": -0.052, "hi": 1.053},
      {"ax": "MDS2", "h": "natural", "lo": -0.958, "q1": -0.465, "med": -0.3125, "q3": -0.104, "hi": 0.208},
      {"ax": "MDS2", "h": "urban", "lo": -0.958, "q1": -0.382, "med": -0.222, "q3": 0.368, "hi": 1.424}
    ],
    "saa_out": [
      {"ax": "MDS1", "h": "urban", "v": 1.52}, {"ax": "MDS1", "h": "urban", "v": 1.96}, {"ax": "MDS1", "h": "urban", "v": 2.28},
      {"ax": "MDS1", "h": "natural", "v": -1.27}, {"ax": "MDS1", "h": "natural", "v": -1.16}, {"ax": "MDS1", "h": "natural", "v": -0.97}, {"ax": "MDS1", "h": "natural", "v": 0.57}, {"ax": "MDS1", "h": "natural", "v": 0.69}, {"ax": "MDS1", "h": "natural", "v": 0.78}, {"ax": "MDS1", "h": "natural", "v": 0.87}, {"ax": "MDS1", "h": "natural", "v": 0.94}, {"ax": "MDS1", "h": "natural", "v": 1.05}, {"ax": "MDS1", "h": "natural", "v": 1.16}, {"ax": "MDS1", "h": "natural", "v": 1.55}, {"ax": "MDS1", "h": "natural", "v": 1.61}, {"ax": "MDS1", "h": "natural", "v": 1.68}, {"ax": "MDS1", "h": "natural", "v": 1.75}, {"ax": "MDS1", "h": "natural", "v": 1.81}, {"ax": "MDS1", "h": "natural", "v": 1.9}, {"ax": "MDS1", "h": "natural", "v": 1.97}, {"ax": "MDS1", "h": "natural", "v": 2.28},
      {"ax": "MDS2", "h": "natural", "v": 1.924}, {"ax": "MDS2", "h": "natural", "v": 1.389}, {"ax": "MDS2", "h": "natural", "v": 1.354}, {"ax": "MDS2", "h": "natural", "v": 0.986}, {"ax": "MDS2", "h": "natural", "v": 0.958}, {"ax": "MDS2", "h": "natural", "v": 0.8}, {"ax": "MDS2", "h": "natural", "v": 0.764}, {"ax": "MDS2", "h": "natural", "v": 0.68}, {"ax": "MDS2", "h": "natural", "v": 0.486},
      {"ax": "MDS2", "h": "urban", "v": 2.465}, {"ax": "MDS2", "h": "urban", "v": 2.431}, {"ax": "MDS2", "h": "urban", "v": 2.389}, {"ax": "MDS2", "h": "urban", "v": 2.34}, {"ax": "MDS2", "h": "urban", "v": 2.236}, {"ax": "MDS2", "h": "urban", "v": 1.958}, {"ax": "MDS2", "h": "urban", "v": 1.792}
    ],
    "sas_pts": [
      {"x": -0.98, "y": 2.15, "g": "MR", "h": "natural"}, {"x": -0.97, "y": 2.12, "g": "MR", "h": "natural"}, {"x": -0.9, "y": 1.93, "g": "MR", "h": "natural"}, {"x": -1.02, "y": 1.85, "g": "MR", "h": "natural"}, {"x": -0.46, "y": 1.35, "g": "MR", "h": "natural"}, {"x": -0.53, "y": 0.21, "g": "MR", "h": "natural"}, {"x": -0.53, "y": 0.06, "g": "MR", "h": "natural"}, {"x": -0.46, "y": 0.07, "g": "MR", "h": "natural"}, {"x": -0.33, "y": -0.14, "g": "MR", "h": "natural"}, {"x": -0.35, "y": -0.18, "g": "MR", "h": "natural"}, {"x": -0.32, "y": -0.22, "g": "MR", "h": "natural"}, {"x": -0.42, "y": -0.38, "g": "MR", "h": "natural"}, {"x": -0.64, "y": -1.03, "g": "MR", "h": "natural"}, {"x": 0.82, "y": -0.17, "g": "MR", "h": "natural"}, {"x": -0.37, "y": -0.16, "g": "MR", "h": "natural"},
      {"x": -0.98, "y": 2.16, "g": "UTSA", "h": "urban"}, {"x": -0.71, "y": 1.04, "g": "UTSA", "h": "urban"}, {"x": -0.53, "y": -0.18, "g": "UTSA", "h": "urban"}, {"x": -0.51, "y": -0.3, "g": "UTSA", "h": "urban"}, {"x": -0.5, "y": -0.42, "g": "UTSA", "h": "urban"}, {"x": -0.45, "y": -0.14, "g": "UTSA", "h": "urban"}, {"x": -0.39, "y": -0.14, "g": "UTSA", "h": "urban"}, {"x": -0.38, "y": -0.3, "g": "UTSA", "h": "urban"}, {"x": -0.37, "y": -0.38, "g": "UTSA", "h": "urban"}, {"x": -0.4, "y": -0.46, "g": "UTSA", "h": "urban"}, {"x": -0.28, "y": -0.14, "g": "UTSA", "h": "urban"}, {"x": -0.21, "y": -0.12, "g": "UTSA", "h": "urban"}, {"x": -0.15, "y": -0.14, "g": "UTSA", "h": "urban"}, {"x": -0.12, "y": -0.1, "g": "UTSA", "h": "urban"}, {"x": 0.0, "y": -0.13, "g": "UTSA", "h": "urban"}, {"x": -0.46, "y": -0.58, "g": "UTSA", "h": "urban"}, {"x": -0.45, "y": -0.64, "g": "UTSA", "h": "urban"}, {"x": -0.2, "y": -0.69, "g": "UTSA", "h": "urban"}, {"x": -0.03, "y": -0.67, "g": "UTSA", "h": "urban"}, {"x": -0.19, "y": -0.91, "g": "UTSA", "h": "urban"}, {"x": -0.45, "y": -0.97, "g": "UTSA", "h": "urban"}, {"x": -0.45, "y": -1.17, "g": "UTSA", "h": "urban"}, {"x": -0.58, "y": -1.03, "g": "UTSA", "h": "urban"}, {"x": -0.59, "y": -1.13, "g": "UTSA", "h": "urban"}, {"x": -0.58, "y": -1.22, "g": "UTSA", "h": "urban"}, {"x": -0.39, "y": -1.39, "g": "UTSA", "h": "urban"}, {"x": 0.24, "y": -0.1, "g": "UTSA", "h": "urban"}, {"x": 0.3, "y": -0.06, "g": "UTSA", "h": "urban"}, {"x": 0.5, "y": -0.07, "g": "UTSA", "h": "urban"}, {"x": 0.67, "y": -0.08, "g": "UTSA", "h": "urban"}, {"x": 0.94, "y": 0.17, "g": "UTSA", "h": "urban"}, {"x": 0.99, "y": 0.06, "g": "UTSA", "h": "urban"}, {"x": 1.09, "y": 0.29, "g": "UTSA", "h": "urban"}, {"x": 1.1, "y": 0.25, "g": "UTSA", "h": "urban"}, {"x": 1.37, "y": -0.1, "g": "UTSA", "h": "urban"}, {"x": 1.0, "y": -0.34, "g": "UTSA", "h": "urban"}, {"x": 1.52, "y": 0.29, "g": "UTSA", "h": "urban"}, {"x": 1.57, "y": 0.25, "g": "UTSA", "h": "urban"}, {"x": 1.61, "y": 0.41, "g": "UTSA", "h": "urban"}, {"x": 1.65, "y": 0.47, "g": "UTSA", "h": "urban"}, {"x": 1.68, "y": 0.49, "g": "UTSA", "h": "urban"}, {"x": 1.69, "y": 0.47, "g": "UTSA", "h": "urban"}
    ],
    "sas_ell": [
      {"g": "MR", "i": 0, "x": -1.305, "y": 3.621}, {"g": "MR", "i": 1, "x": -1.59, "y": 3.122}, {"g": "MR", "i": 2, "x": -1.594, "y": 1.957}, {"g": "MR", "i": 3, "x": -1.315, "y": 0.437}, {"g": "MR", "i": 4, "x": -0.829, "y": -1.03}, {"g": "MR", "i": 5, "x": -0.265, "y": -2.05}, {"g": "MR", "i": 6, "x": 0.225, "y": -2.351}, {"g": "MR", "i": 7, "x": 0.51, "y": -1.852}, {"g": "MR", "i": 8, "x": 0.514, "y": -0.687}, {"g": "MR", "i": 9, "x": 0.235, "y": 0.833}, {"g": "MR", "i": 10, "x": -0.251, "y": 2.3}, {"g": "MR", "i": 11, "x": -0.815, "y": 3.32},
      {"g": "UTSA", "i": 0, "x": 2.216, "y": 0.748}, {"g": "UTSA", "i": 1, "x": 1.678, "y": 1.188}, {"g": "UTSA", "i": 2, "x": 0.736, "y": 1.256}, {"g": "UTSA", "i": 3, "x": -0.359, "y": 0.933}, {"g": "UTSA", "i": 4, "x": -1.313, "y": 0.307}, {"g": "UTSA", "i": 5, "x": -1.871, "y": -0.456}, {"g": "UTSA", "i": 6, "x": -1.883, "y": -1.15}, {"g": "UTSA", "i": 7, "x": -1.345, "y": -1.59}, {"g": "UTSA", "i": 8, "x": -0.403, "y": -1.658}, {"g": "UTSA", "i": 9, "x": 0.692, "y": -1.335}, {"g": "UTSA", "i": 10, "x": 1.646, "y": -0.709}, {"g": "UTSA", "i": 11, "x": 2.204, "y": 0.054}
    ],
    "sas_box": [
      {"ax": "MDS1", "h": "natural", "lo": -1.009, "q1": -0.902, "med": -0.51, "q3": -0.338, "hi": -0.338},
      {"ax": "MDS1", "h": "urban", "lo": -0.966, "q1": -0.435, "med": -0.258, "q3": 0.983, "hi": 1.675},
      {"ax": "MDS2", "h": "natural", "lo": -1.026, "q1": -0.197, "med": 0.071, "q3": 1.909, "hi": 2.146},
      {"ax": "MDS2", "h": "urban", "lo": -1.01, "q1": -0.418, "med": -0.166, "q3": 0.118, "hi": 0.489}
    ],
    "sas_out": [
      {"ax": "MDS1", "h": "natural", "v": 0.816},
      {"ax": "MDS2", "h": "urban", "v": 2.16}, {"ax": "MDS2", "h": "urban", "v": 1.02}, {"ax": "MDS2", "h": "urban", "v": -1.23}, {"ax": "MDS2", "h": "urban", "v": -1.4}
    ]
  },
  "vconcat": [
    {
      "vconcat": [
        {
          "hconcat": [
            {
              "vconcat": [
                {
                  "width": 287, "height": 26, "view": {"stroke": null},
                  "title": {"text": "Austin", "font": "Lato", "fontSize": 29, "fontWeight": "normal", "color": "#000000", "anchor": "middle", "frame": "group", "dx": 38.5, "offset": 16},
                  "data": {"name": "aus_box"},
                  "transform": [{"filter": "datum.ax === 'MDS1'"}],
                  "encoding": {"y": {"field": "h", "type": "nominal", "scale": {"type": "band", "domain": ["urban", "natural"], "paddingInner": 0, "paddingOuter": 0}, "axis": null}},
                  "layer": [
                    {"mark": {"type": "rule", "color": "#333333", "strokeWidth": 0.8}, "encoding": {"x": {"field": "lo", "type": "quantitative", "scale": {"domain": [-2.28, 3.42], "nice": false, "zero": false}, "axis": null}, "x2": {"field": "hi"}}},
                    {"mark": {"type": "bar", "size": 11, "stroke": "#000000", "strokeWidth": 0.8}, "encoding": {"x": {"field": "q1", "type": "quantitative", "scale": {"domain": [-2.28, 3.42], "nice": false, "zero": false}, "axis": null}, "x2": {"field": "q3"}, "fill": {"field": "h", "type": "nominal", "scale": {"domain": ["natural", "urban"], "range": ["#0000ff", "#ff0000"]}, "legend": null}}},
                    {"mark": {"type": "tick", "color": "#000000", "size": 11, "thickness": 1.4}, "encoding": {"x": {"field": "med", "type": "quantitative", "scale": {"domain": [-2.28, 3.42], "nice": false, "zero": false}, "axis": null}}},
                    {"data": {"name": "aus_out"}, "transform": [{"filter": "datum.ax === 'MDS1'"}], "mark": {"type": "circle", "color": "#000000", "size": 12, "opacity": 1}, "encoding": {"x": {"field": "v", "type": "quantitative", "scale": {"domain": [-2.28, 3.42], "nice": false, "zero": false}, "axis": null}}}
                  ]
                },
                {
                  "hconcat": [
                    {
                      "width": 287, "height": 277,
                      "title": {"text": "104 samples & 116 taxa (family). PCoA tax_transform=identity dist=bray", "orient": "bottom", "anchor": "middle", "frame": "group", "dx": 35, "offset": 6, "fontSize": 8.6, "fontWeight": "normal", "color": "#1a1a1a"},
                      "resolve": {"axis": {"x": "independent", "y": "independent"}},
                      "layer": [
                        {
                          "data": {"name": "aus_pts"},
                          "mark": {"type": "point", "filled": true, "size": 18, "opacity": 1},
                          "encoding": {
                            "x": {"field": "x", "type": "quantitative", "scale": {"domain": [-2.28, 3.42], "nice": false, "zero": false}, "axis": {"orient": "bottom", "values": [-2, -1, 0, 1, 2, 3], "title": "MDS1 [10.1%]", "titleX": 158.5, "titleY": 16, "labelExpr": "datum.value + ''"}},
                            "y": {"field": "y", "type": "quantitative", "scale": {"domain": [-2.68, 2.66], "nice": false, "zero": false}, "axis": {"orient": "left", "values": [-2, -1, 0, 1, 2], "title": "MDS2 [6.8%]", "titleX": -14, "titleY": 123, "labelExpr": "datum.value + ''"}},
                            "color": {"field": "g", "type": "nominal", "scale": {"domain": ["baca", "bast", "BCG", "jest", "UT"], "range": ["#1b9e77", "#d95f02", "#7570b3", "#e7298a", "#66a61e"]}, "legend": {"title": "locGroup", "orient": "none", "legendX": 333, "legendY": 109, "symbolType": "M-1,-1H1V1H-1Z M-0.8,-0.8V0.8H0.8V-0.8Z M-0.23,0A0.23,0.23 0 1,1 0.23,0A0.23,0.23 0 1,1 -0.23,0Z", "symbolSize": 177, "symbolStrokeWidth": 0, "rowPadding": 3.4, "titlePadding": 5, "labelOffset": 7}},
                            "shape": {"field": "h", "type": "nominal", "scale": {"domain": ["natural", "urban"], "range": ["circle", "triangle-up"]}, "legend": {"title": "habitatType", "orient": "none", "legendX": 333, "legendY": 39, "symbolSize": 18, "symbolFillColor": "#000000", "symbolStrokeColor": "#000000", "symbolStrokeWidth": 0, "rowPadding": 7, "titlePadding": 8, "symbolOffset": 3, "labelOffset": 8}}
                          }
                        },
                        {
                          "data": {"name": "aus_ell"},
                          "mark": {"type": "line", "interpolate": "cardinal-closed", "strokeWidth": 1.3, "clip": true},
                          "encoding": {
                            "x": {"field": "x", "type": "quantitative", "scale": {"domain": [-2.28, 3.42], "nice": false, "zero": false}, "axis": {"orient": "top", "values": [-1.5, -0.5, 0.5, 1.5, 2.5], "labels": false, "ticks": false, "domain": false, "title": null, "gridColor": "#f2f2f2", "gridWidth": 0.7}},
                            "y": {"field": "y", "type": "quantitative", "scale": {"domain": [-2.68, 2.66], "nice": false, "zero": false}, "axis": {"orient": "right", "values": [-2.5, -1.5, -0.5, 0.5, 1.5, 2.5], "labels": false, "ticks": false, "domain": false, "title": null, "gridColor": "#f2f2f2", "gridWidth": 0.7}},
                            "stroke": {"field": "g", "type": "nominal", "scale": {"domain": ["baca", "bast", "BCG", "jest", "UT"], "range": ["#1b9e77", "#d95f02", "#7570b3", "#e7298a", "#66a61e"]}, "legend": null},
                            "detail": {"field": "g"},
                            "order": {"field": "i", "type": "quantitative"}
                          }
                        }
                      ]
                    },
                    {
                      "width": 28, "height": 277, "view": {"stroke": null},
                      "data": {"name": "aus_box"},
                      "transform": [{"filter": "datum.ax === 'MDS2'"}],
                      "encoding": {"x": {"field": "h", "type": "nominal", "scale": {"type": "band", "domain": ["natural", "urban"], "paddingInner": 0, "paddingOuter": 0}, "axis": null}},
                      "layer": [
                        {"mark": {"type": "rule", "color": "#333333", "strokeWidth": 0.8}, "encoding": {"y": {"field": "lo", "type": "quantitative", "scale": {"domain": [-2.68, 2.66], "nice": false, "zero": false}, "axis": null}, "y2": {"field": "hi"}}},
                        {"mark": {"type": "bar", "size": 11, "stroke": "#000000", "strokeWidth": 0.8}, "encoding": {"y": {"field": "q1", "type": "quantitative", "scale": {"domain": [-2.68, 2.66], "nice": false, "zero": false}, "axis": null}, "y2": {"field": "q3"}, "fill": {"field": "h", "type": "nominal", "scale": {"domain": ["natural", "urban"], "range": ["#0000ff", "#ff0000"]}, "legend": null}}},
                        {"mark": {"type": "tick", "color": "#000000", "size": 11, "thickness": 1.4}, "encoding": {"y": {"field": "med", "type": "quantitative", "scale": {"domain": [-2.68, 2.66], "nice": false, "zero": false}, "axis": null}}},
                        {"data": {"name": "aus_out"}, "transform": [{"filter": "datum.ax === 'MDS2'"}], "mark": {"type": "circle", "color": "#000000", "size": 12, "opacity": 1}, "encoding": {"y": {"field": "v", "type": "quantitative", "scale": {"domain": [-2.68, 2.66], "nice": false, "zero": false}, "axis": null}}}
                      ]
                    }
                  ],
                  "spacing": 3, "bounds": "flush",
                  "resolve": {"scale": {"x": "independent", "y": "independent", "color": "independent", "shape": "independent", "stroke": "independent", "fill": "independent"}}
                }
              ],
              "spacing": 3,
              "resolve": {"scale": {"x": "independent", "y": "independent", "color": "independent", "shape": "independent", "stroke": "independent", "fill": "independent"}}
            },
            {
              "vconcat": [
                {
                  "width": 287, "height": 26, "view": {"stroke": null},
                  "title": {"text": "Dallas – Fort Worth", "font": "Lato", "fontSize": 29, "fontWeight": "normal", "color": "#000000", "anchor": "middle", "frame": "group", "dx": 38.5, "offset": 16},
                  "data": {"name": "dfw_box"},
                  "transform": [{"filter": "datum.ax === 'MDS1'"}],
                  "encoding": {"y": {"field": "h", "type": "nominal", "scale": {"type": "band", "domain": ["urban", "natural"], "paddingInner": 0, "paddingOuter": 0}, "axis": null}},
                  "layer": [
                    {"mark": {"type": "rule", "color": "#333333", "strokeWidth": 0.8}, "encoding": {"x": {"field": "lo", "type": "quantitative", "scale": {"domain": [-2.433, 2.785], "nice": false, "zero": false}, "axis": null}, "x2": {"field": "hi"}}},
                    {"mark": {"type": "bar", "size": 11, "stroke": "#000000", "strokeWidth": 0.8}, "encoding": {"x": {"field": "q1", "type": "quantitative", "scale": {"domain": [-2.433, 2.785], "nice": false, "zero": false}, "axis": null}, "x2": {"field": "q3"}, "fill": {"field": "h", "type": "nominal", "scale": {"domain": ["natural", "urban"], "range": ["#0000ff", "#ff0000"]}, "legend": null}}},
                    {"mark": {"type": "tick", "color": "#000000", "size": 11, "thickness": 1.4}, "encoding": {"x": {"field": "med", "type": "quantitative", "scale": {"domain": [-2.433, 2.785], "nice": false, "zero": false}, "axis": null}}},
                    {"data": {"name": "dfw_out"}, "transform": [{"filter": "datum.ax === 'MDS1'"}], "mark": {"type": "circle", "color": "#000000", "size": 12, "opacity": 1}, "encoding": {"x": {"field": "v", "type": "quantitative", "scale": {"domain": [-2.433, 2.785], "nice": false, "zero": false}, "axis": null}}}
                  ]
                },
                {
                  "hconcat": [
                    {
                      "width": 287, "height": 277,
                      "title": {"text": "106 samples & 116 taxa (family). PCoA tax_transform=identity dist=bray", "orient": "bottom", "anchor": "middle", "frame": "group", "dx": 35, "offset": 6, "fontSize": 8.6, "fontWeight": "normal", "color": "#1a1a1a"},
                      "resolve": {"axis": {"x": "independent", "y": "independent"}},
                      "layer": [
                        {
                          "data": {"name": "dfw_pts"},
                          "mark": {"type": "point", "filled": true, "size": 18, "opacity": 1},
                          "encoding": {
                            "x": {"field": "x", "type": "quantitative", "scale": {"domain": [-2.433, 2.785], "nice": false, "zero": false}, "axis": {"orient": "bottom", "values": [-2, -1, 0, 1, 2], "title": "MDS1 [14.1%]", "titleX": 158.5, "titleY": 16, "labelExpr": "datum.value + ''"}},
                            "y": {"field": "y", "type": "quantitative", "scale": {"domain": [-2.467, 2.3], "nice": false, "zero": false}, "axis": {"orient": "left", "values": [-2, -1, 0, 1, 2], "title": "MDS2 [9.4%]", "titleX": -14, "titleY": 123, "labelExpr": "datum.value + ''"}},
                            "color": {"field": "g", "type": "nominal", "scale": {"domain": ["FM", "UTA"], "range": ["#1b9e77", "#d95f02"]}, "legend": {"title": "locGroup", "orient": "none", "legendX": 333, "legendY": 135, "symbolType": "M-1,-1H1V1H-1Z M-0.8,-0.8V0.8H0.8V-0.8Z M-0.23,0A0.23,0.23 0 1,1 0.23,0A0.23,0.23 0 1,1 -0.23,0Z", "symbolSize": 177, "symbolStrokeWidth": 0, "rowPadding": 3.4, "titlePadding": 5, "labelOffset": 7}},
                            "shape": {"field": "h", "type": "nominal", "scale": {"domain": ["natural", "urban"], "range": ["circle", "triangle-up"]}, "legend": {"title": "habitatType", "orient": "none", "legendX": 333, "legendY": 65, "symbolSize": 18, "symbolFillColor": "#000000", "symbolStrokeColor": "#000000", "symbolStrokeWidth": 0, "rowPadding": 7, "titlePadding": 8, "symbolOffset": 3, "labelOffset": 8}}
                          }
                        },
                        {
                          "data": {"name": "dfw_ell"},
                          "mark": {"type": "line", "interpolate": "cardinal-closed", "strokeWidth": 1.3, "clip": true},
                          "encoding": {
                            "x": {"field": "x", "type": "quantitative", "scale": {"domain": [-2.433, 2.785], "nice": false, "zero": false}, "axis": {"orient": "top", "values": [-1.5, -0.5, 0.5, 1.5, 2.5], "labels": false, "ticks": false, "domain": false, "title": null, "gridColor": "#f2f2f2", "gridWidth": 0.7}},
                            "y": {"field": "y", "type": "quantitative", "scale": {"domain": [-2.467, 2.3], "nice": false, "zero": false}, "axis": {"orient": "right", "values": [-1.5, -0.5, 0.5, 1.5], "labels": false, "ticks": false, "domain": false, "title": null, "gridColor": "#f2f2f2", "gridWidth": 0.7}},
                            "stroke": {"field": "g", "type": "nominal", "scale": {"domain": ["FM", "UTA"], "range": ["#1b9e77", "#d95f02"]}, "legend": null},
                            "detail": {"field": "g"},
                            "order": {"field": "i", "type": "quantitative"}
                          }
                        }
                      ]
                    },
                    {
                      "width": 28, "height": 277, "view": {"stroke": null},
                      "data": {"name": "dfw_box"},
                      "transform": [{"filter": "datum.ax === 'MDS2'"}],
                      "encoding": {"x": {"field": "h", "type": "nominal", "scale": {"type": "band", "domain": ["natural", "urban"], "paddingInner": 0, "paddingOuter": 0}, "axis": null}},
                      "layer": [
                        {"mark": {"type": "rule", "color": "#333333", "strokeWidth": 0.8}, "encoding": {"y": {"field": "lo", "type": "quantitative", "scale": {"domain": [-2.467, 2.3], "nice": false, "zero": false}, "axis": null}, "y2": {"field": "hi"}}},
                        {"mark": {"type": "bar", "size": 11, "stroke": "#000000", "strokeWidth": 0.8}, "encoding": {"y": {"field": "q1", "type": "quantitative", "scale": {"domain": [-2.467, 2.3], "nice": false, "zero": false}, "axis": null}, "y2": {"field": "q3"}, "fill": {"field": "h", "type": "nominal", "scale": {"domain": ["natural", "urban"], "range": ["#0000ff", "#ff0000"]}, "legend": null}}},
                        {"mark": {"type": "tick", "color": "#000000", "size": 11, "thickness": 1.4}, "encoding": {"y": {"field": "med", "type": "quantitative", "scale": {"domain": [-2.467, 2.3], "nice": false, "zero": false}, "axis": null}}},
                        {"data": {"name": "dfw_out"}, "transform": [{"filter": "datum.ax === 'MDS2'"}], "mark": {"type": "circle", "color": "#000000", "size": 12, "opacity": 1}, "encoding": {"y": {"field": "v", "type": "quantitative", "scale": {"domain": [-2.467, 2.3], "nice": false, "zero": false}, "axis": null}}}
                      ]
                    }
                  ],
                  "spacing": 3, "bounds": "flush",
                  "resolve": {"scale": {"x": "independent", "y": "independent", "color": "independent", "shape": "independent", "stroke": "independent", "fill": "independent"}}
                }
              ],
              "spacing": 3,
              "resolve": {"scale": {"x": "independent", "y": "independent", "color": "independent", "shape": "independent", "stroke": "independent", "fill": "independent"}}
            }
          ],
          "spacing": 16,
          "resolve": {"scale": {"x": "independent", "y": "independent", "color": "independent", "shape": "independent", "stroke": "independent", "fill": "independent"}}
        },
        {
          "hconcat": [
            {
              "vconcat": [
                {
                  "width": 287, "height": 26, "view": {"stroke": null},
                  "title": {"text": "Houston", "font": "Lato", "fontSize": 29, "fontWeight": "normal", "color": "#000000", "anchor": "middle", "frame": "group", "dx": 38.5, "offset": 16},
                  "data": {"name": "hou_box"},
                  "transform": [{"filter": "datum.ax === 'MDS1'"}],
                  "encoding": {"y": {"field": "h", "type": "nominal", "scale": {"type": "band", "domain": ["urban", "natural"], "paddingInner": 0, "paddingOuter": 0}, "axis": null}},
                  "layer": [
                    {"mark": {"type": "rule", "color": "#333333", "strokeWidth": 0.8}, "encoding": {"x": {"field": "lo", "type": "quantitative", "scale": {"domain": [-2.491, 2.456], "nice": false, "zero": false}, "axis": null}, "x2": {"field": "hi"}}},
                    {"mark": {"type": "bar", "size": 11, "stroke": "#000000", "strokeWidth": 0.8}, "encoding": {"x": {"field": "q1", "type": "quantitative", "scale": {"domain": [-2.491, 2.456], "nice": false, "zero": false}, "axis": null}, "x2": {"field": "q3"}, "fill": {"field": "h", "type": "nominal", "scale": {"domain": ["natural", "urban"], "range": ["#0000ff", "#ff0000"]}, "legend": null}}},
                    {"mark": {"type": "tick", "color": "#000000", "size": 11, "thickness": 1.4}, "encoding": {"x": {"field": "med", "type": "quantitative", "scale": {"domain": [-2.491, 2.456], "nice": false, "zero": false}, "axis": null}}},
                    {"data": {"name": "hou_out"}, "transform": [{"filter": "datum.ax === 'MDS1'"}], "mark": {"type": "circle", "color": "#000000", "size": 12, "opacity": 1}, "encoding": {"x": {"field": "v", "type": "quantitative", "scale": {"domain": [-2.491, 2.456], "nice": false, "zero": false}, "axis": null}}}
                  ]
                },
                {
                  "hconcat": [
                    {
                      "width": 287, "height": 277,
                      "title": {"text": "129 samples & 116 taxa (family). PCoA tax_transform=identity dist=bray", "orient": "bottom", "anchor": "middle", "frame": "group", "dx": 35, "offset": 6, "fontSize": 8.6, "fontWeight": "normal", "color": "#1a1a1a"},
                      "resolve": {"axis": {"x": "independent", "y": "independent"}},
                      "layer": [
                        {
                          "data": {"name": "hou_pts"},
                          "mark": {"type": "point", "filled": true, "size": 18, "opacity": 1},
                          "encoding": {
                            "x": {"field": "x", "type": "quantitative", "scale": {"domain": [-2.491, 2.456], "nice": false, "zero": false}, "axis": {"orient": "bottom", "values": [-2, -1, 0, 1, 2], "title": "MDS1 [5.9%]", "titleX": 158.5, "titleY": 16, "labelExpr": "datum.value + ''"}},
                            "y": {"field": "y", "type": "quantitative", "scale": {"domain": [-2.875, 2.93], "nice": false, "zero": false}, "axis": {"orient": "left", "values": [-2, -1, 0, 1, 2], "title": "MDS2 [5.1%]", "titleX": -14, "titleY": 124, "labelExpr": "datum.value + ''"}},
                            "color": {"field": "g", "type": "nominal", "scale": {"domain": ["SHF", "UH"], "range": ["#1b9e77", "#d95f02"]}, "legend": {"title": "locGroup", "orient": "none", "legendX": 333, "legendY": 135, "symbolType": "M-1,-1H1V1H-1Z M-0.8,-0.8V0.8H0.8V-0.8Z M-0.23,0A0.23,0.23 0 1,1 0.23,0A0.23,0.23 0 1,1 -0.23,0Z", "symbolSize": 177, "symbolStrokeWidth": 0, "rowPadding": 3.4, "titlePadding": 5, "labelOffset": 7}},
                            "shape": {"field": "h", "type": "nominal", "scale": {"domain": ["natural", "urban"], "range": ["circle", "triangle-up"]}, "legend": {"title": "habitatType", "orient": "none", "legendX": 333, "legendY": 65, "symbolSize": 18, "symbolFillColor": "#000000", "symbolStrokeColor": "#000000", "symbolStrokeWidth": 0, "rowPadding": 7, "titlePadding": 8, "symbolOffset": 3, "labelOffset": 8}}
                          }
                        },
                        {
                          "data": {"name": "hou_ell"},
                          "mark": {"type": "line", "interpolate": "cardinal-closed", "strokeWidth": 1.3, "clip": true},
                          "encoding": {
                            "x": {"field": "x", "type": "quantitative", "scale": {"domain": [-2.491, 2.456], "nice": false, "zero": false}, "axis": {"orient": "top", "values": [-1.5, -0.5, 0.5, 1.5], "labels": false, "ticks": false, "domain": false, "title": null, "gridColor": "#f2f2f2", "gridWidth": 0.7}},
                            "y": {"field": "y", "type": "quantitative", "scale": {"domain": [-2.875, 2.93], "nice": false, "zero": false}, "axis": {"orient": "right", "values": [-2.5, -1.5, -0.5, 0.5, 1.5, 2.5], "labels": false, "ticks": false, "domain": false, "title": null, "gridColor": "#f2f2f2", "gridWidth": 0.7}},
                            "stroke": {"field": "g", "type": "nominal", "scale": {"domain": ["SHF", "UH"], "range": ["#1b9e77", "#d95f02"]}, "legend": null},
                            "detail": {"field": "g"},
                            "order": {"field": "i", "type": "quantitative"}
                          }
                        }
                      ]
                    },
                    {
                      "width": 28, "height": 277, "view": {"stroke": null},
                      "data": {"name": "hou_box"},
                      "transform": [{"filter": "datum.ax === 'MDS2'"}],
                      "encoding": {"x": {"field": "h", "type": "nominal", "scale": {"type": "band", "domain": ["natural", "urban"], "paddingInner": 0, "paddingOuter": 0}, "axis": null}},
                      "layer": [
                        {"mark": {"type": "rule", "color": "#333333", "strokeWidth": 0.8}, "encoding": {"y": {"field": "lo", "type": "quantitative", "scale": {"domain": [-2.875, 2.93], "nice": false, "zero": false}, "axis": null}, "y2": {"field": "hi"}}},
                        {"mark": {"type": "bar", "size": 11, "stroke": "#000000", "strokeWidth": 0.8}, "encoding": {"y": {"field": "q1", "type": "quantitative", "scale": {"domain": [-2.875, 2.93], "nice": false, "zero": false}, "axis": null}, "y2": {"field": "q3"}, "fill": {"field": "h", "type": "nominal", "scale": {"domain": ["natural", "urban"], "range": ["#0000ff", "#ff0000"]}, "legend": null}}},
                        {"mark": {"type": "tick", "color": "#000000", "size": 11, "thickness": 1.4}, "encoding": {"y": {"field": "med", "type": "quantitative", "scale": {"domain": [-2.875, 2.93], "nice": false, "zero": false}, "axis": null}}},
                        {"data": {"name": "hou_out"}, "transform": [{"filter": "datum.ax === 'MDS2'"}], "mark": {"type": "circle", "color": "#000000", "size": 12, "opacity": 1}, "encoding": {"y": {"field": "v", "type": "quantitative", "scale": {"domain": [-2.875, 2.93], "nice": false, "zero": false}, "axis": null}}}
                      ]
                    }
                  ],
                  "spacing": 3, "bounds": "flush",
                  "resolve": {"scale": {"x": "independent", "y": "independent", "color": "independent", "shape": "independent", "stroke": "independent", "fill": "independent"}}
                }
              ],
              "spacing": 3,
              "resolve": {"scale": {"x": "independent", "y": "independent", "color": "independent", "shape": "independent", "stroke": "independent", "fill": "independent"}}
            },
            {
              "vconcat": [
                {
                  "width": 287, "height": 26, "view": {"stroke": null},
                  "title": {"text": "San Antonio (A)", "font": "Lato", "fontSize": 29, "fontWeight": "normal", "color": "#000000", "anchor": "middle", "frame": "group", "dx": 38.5, "offset": 16},
                  "data": {"name": "saa_box"},
                  "transform": [{"filter": "datum.ax === 'MDS1'"}],
                  "encoding": {"y": {"field": "h", "type": "nominal", "scale": {"type": "band", "domain": ["urban", "natural"], "paddingInner": 0, "paddingOuter": 0}, "axis": null}},
                  "layer": [
                    {"mark": {"type": "rule", "color": "#333333", "strokeWidth": 0.8}, "encoding": {"x": {"field": "lo", "type": "quantitative", "scale": {"domain": [-2.578, 3.779], "nice": false, "zero": false}, "axis": null}, "x2": {"field": "hi"}}},
                    {"mark": {"type": "bar", "size": 11, "stroke": "#000000", "strokeWidth": 0.8}, "encoding": {"x": {"field": "q1", "type": "quantitative", "scale": {"domain": [-2.578, 3.779], "nice": false, "zero": false}, "axis": null}, "x2": {"field": "q3"}, "fill": {"field": "h", "type": "nominal", "scale": {"domain": ["natural", "urban"], "range": ["#0000ff", "#ff0000"]}, "legend": null}}},
                    {"mark": {"type": "tick", "color": "#000000", "size": 11, "thickness": 1.4}, "encoding": {"x": {"field": "med", "type": "quantitative", "scale": {"domain": [-2.578, 3.779], "nice": false, "zero": false}, "axis": null}}},
                    {"data": {"name": "saa_out"}, "transform": [{"filter": "datum.ax === 'MDS1'"}], "mark": {"type": "circle", "color": "#000000", "size": 12, "opacity": 1}, "encoding": {"x": {"field": "v", "type": "quantitative", "scale": {"domain": [-2.578, 3.779], "nice": false, "zero": false}, "axis": null}}}
                  ]
                },
                {
                  "hconcat": [
                    {
                      "width": 287, "height": 277,
                      "title": {"text": "166 samples & 116 taxa (family). PCoA tax_transform=identity dist=bray", "orient": "bottom", "anchor": "middle", "frame": "group", "dx": 35, "offset": 6, "fontSize": 8.6, "fontWeight": "normal", "color": "#1a1a1a"},
                      "resolve": {"axis": {"x": "independent", "y": "independent"}},
                      "layer": [
                        {
                          "data": {"name": "saa_pts"},
                          "mark": {"type": "point", "filled": true, "size": 18, "opacity": 1},
                          "encoding": {
                            "x": {"field": "x", "type": "quantitative", "scale": {"domain": [-2.578, 3.779], "nice": false, "zero": false}, "axis": {"orient": "bottom", "values": [-2, 0, 2], "title": "MDS1 [7.2%]", "titleX": 158.5, "titleY": 16, "labelExpr": "datum.value + ''"}},
                            "y": {"field": "y", "type": "quantitative", "scale": {"domain": [-2.625, 3.16], "nice": false, "zero": false}, "axis": {"orient": "left", "values": [-2, -1, 0, 1, 2, 3], "title": "MDS2 [5.9%]", "titleX": -14, "titleY": 124, "labelExpr": "datum.value + ''"}},
                            "color": {"field": "g", "type": "nominal", "scale": {"domain": ["bexa", "digo", "lhpa", "MR", "UTSA"], "range": ["#1b9e77", "#d95f02", "#7570b3", "#e7298a", "#66a61e"]}, "legend": {"title": "locGroup", "orient": "none", "legendX": 333, "legendY": 109, "symbolType": "M-1,-1H1V1H-1Z M-0.8,-0.8V0.8H0.8V-0.8Z M-0.23,0A0.23,0.23 0 1,1 0.23,0A0.23,0.23 0 1,1 -0.23,0Z", "symbolSize": 177, "symbolStrokeWidth": 0, "rowPadding": 3.4, "titlePadding": 5, "labelOffset": 7}},
                            "shape": {"field": "h", "type": "nominal", "scale": {"domain": ["natural", "urban"], "range": ["circle", "triangle-up"]}, "legend": {"title": "habitatType", "orient": "none", "legendX": 333, "legendY": 39, "symbolSize": 18, "symbolFillColor": "#000000", "symbolStrokeColor": "#000000", "symbolStrokeWidth": 0, "rowPadding": 7, "titlePadding": 8, "symbolOffset": 3, "labelOffset": 8}}
                          }
                        },
                        {
                          "data": {"name": "saa_ell"},
                          "mark": {"type": "line", "interpolate": "cardinal-closed", "strokeWidth": 1.3, "clip": true},
                          "encoding": {
                            "x": {"field": "x", "type": "quantitative", "scale": {"domain": [-2.578, 3.779], "nice": false, "zero": false}, "axis": {"orient": "top", "values": [-1, 1, 3], "labels": false, "ticks": false, "domain": false, "title": null, "gridColor": "#f2f2f2", "gridWidth": 0.7}},
                            "y": {"field": "y", "type": "quantitative", "scale": {"domain": [-2.625, 3.16], "nice": false, "zero": false}, "axis": {"orient": "right", "values": [-2.5, -1.5, -0.5, 0.5, 1.5, 2.5], "labels": false, "ticks": false, "domain": false, "title": null, "gridColor": "#f2f2f2", "gridWidth": 0.7}},
                            "stroke": {"field": "g", "type": "nominal", "scale": {"domain": ["bexa", "digo", "lhpa", "MR", "UTSA"], "range": ["#1b9e77", "#d95f02", "#7570b3", "#e7298a", "#66a61e"]}, "legend": null},
                            "detail": {"field": "g"},
                            "order": {"field": "i", "type": "quantitative"}
                          }
                        }
                      ]
                    },
                    {
                      "width": 28, "height": 277, "view": {"stroke": null},
                      "data": {"name": "saa_box"},
                      "transform": [{"filter": "datum.ax === 'MDS2'"}],
                      "encoding": {"x": {"field": "h", "type": "nominal", "scale": {"type": "band", "domain": ["natural", "urban"], "paddingInner": 0, "paddingOuter": 0}, "axis": null}},
                      "layer": [
                        {"mark": {"type": "rule", "color": "#333333", "strokeWidth": 0.8}, "encoding": {"y": {"field": "lo", "type": "quantitative", "scale": {"domain": [-2.625, 3.16], "nice": false, "zero": false}, "axis": null}, "y2": {"field": "hi"}}},
                        {"mark": {"type": "bar", "size": 11, "stroke": "#000000", "strokeWidth": 0.8}, "encoding": {"y": {"field": "q1", "type": "quantitative", "scale": {"domain": [-2.625, 3.16], "nice": false, "zero": false}, "axis": null}, "y2": {"field": "q3"}, "fill": {"field": "h", "type": "nominal", "scale": {"domain": ["natural", "urban"], "range": ["#0000ff", "#ff0000"]}, "legend": null}}},
                        {"mark": {"type": "tick", "color": "#000000", "size": 11, "thickness": 1.4}, "encoding": {"y": {"field": "med", "type": "quantitative", "scale": {"domain": [-2.625, 3.16], "nice": false, "zero": false}, "axis": null}}},
                        {"data": {"name": "saa_out"}, "transform": [{"filter": "datum.ax === 'MDS2'"}], "mark": {"type": "circle", "color": "#000000", "size": 12, "opacity": 1}, "encoding": {"y": {"field": "v", "type": "quantitative", "scale": {"domain": [-2.625, 3.16], "nice": false, "zero": false}, "axis": null}}}
                      ]
                    }
                  ],
                  "spacing": 3, "bounds": "flush",
                  "resolve": {"scale": {"x": "independent", "y": "independent", "color": "independent", "shape": "independent", "stroke": "independent", "fill": "independent"}}
                }
              ],
              "spacing": 3,
              "resolve": {"scale": {"x": "independent", "y": "independent", "color": "independent", "shape": "independent", "stroke": "independent", "fill": "independent"}}
            }
          ],
          "spacing": 16,
          "resolve": {"scale": {"x": "independent", "y": "independent", "color": "independent", "shape": "independent", "stroke": "independent", "fill": "independent"}}
        }
      ],
      "spacing": 12,
      "resolve": {"scale": {"x": "independent", "y": "independent", "color": "independent", "shape": "independent", "stroke": "independent", "fill": "independent"}}
    },
    {
      "vconcat": [
        {
          "width": 287, "height": 26, "view": {"stroke": null},
          "title": {"text": "San Antonio (S)", "font": "Lato", "fontSize": 29, "fontWeight": "normal", "color": "#000000", "anchor": "middle", "frame": "group", "dx": 38.5, "offset": 16},
          "data": {"name": "sas_box"},
          "transform": [{"filter": "datum.ax === 'MDS1'"}],
          "encoding": {"y": {"field": "h", "type": "nominal", "scale": {"type": "band", "domain": ["urban", "natural"], "paddingInner": 0, "paddingOuter": 0}, "axis": null}},
          "layer": [
            {"mark": {"type": "rule", "color": "#333333", "strokeWidth": 0.8}, "encoding": {"x": {"field": "lo", "type": "quantitative", "scale": {"domain": [-2.137, 2.491], "nice": false, "zero": false}, "axis": null}, "x2": {"field": "hi"}}},
            {"mark": {"type": "bar", "size": 11, "stroke": "#000000", "strokeWidth": 0.8}, "encoding": {"x": {"field": "q1", "type": "quantitative", "scale": {"domain": [-2.137, 2.491], "nice": false, "zero": false}, "axis": null}, "x2": {"field": "q3"}, "fill": {"field": "h", "type": "nominal", "scale": {"domain": ["natural", "urban"], "range": ["#0000ff", "#ff0000"]}, "legend": null}}},
            {"mark": {"type": "tick", "color": "#000000", "size": 11, "thickness": 1.4}, "encoding": {"x": {"field": "med", "type": "quantitative", "scale": {"domain": [-2.137, 2.491], "nice": false, "zero": false}, "axis": null}}},
            {"data": {"name": "sas_out"}, "transform": [{"filter": "datum.ax === 'MDS1'"}], "mark": {"type": "circle", "color": "#000000", "size": 12, "opacity": 1}, "encoding": {"x": {"field": "v", "type": "quantitative", "scale": {"domain": [-2.137, 2.491], "nice": false, "zero": false}, "axis": null}}}
          ]
        },
        {
          "hconcat": [
            {
              "width": 287, "height": 277,
              "title": {"text": "76 samples & 116 taxa (family). PCoA tax_transform=identity dist=bray", "orient": "bottom", "anchor": "middle", "frame": "group", "dx": 37, "offset": 6, "fontSize": 8.6, "fontWeight": "normal", "color": "#1a1a1a"},
              "resolve": {"axis": {"x": "independent", "y": "independent"}},
              "layer": [
                {
                  "data": {"name": "sas_pts"},
                  "mark": {"type": "point", "filled": true, "size": 18, "opacity": 1},
                  "encoding": {
                    "x": {"field": "x", "type": "quantitative", "scale": {"domain": [-2.137, 2.491], "nice": false, "zero": false}, "axis": {"orient": "bottom", "values": [-2, -1, 0, 1, 2], "title": "MDS1 [14.9%]", "titleX": 158.5, "titleY": 16, "labelExpr": "datum.value + ''"}},
                    "y": {"field": "y", "type": "quantitative", "scale": {"domain": [-2.643, 3.905], "nice": false, "zero": false}, "axis": {"orient": "left", "values": [-2, 0, 2], "title": "MDS2 [9.0%]", "titleX": -14, "titleY": 124, "labelExpr": "datum.value + ''"}},
                    "color": {"field": "g", "type": "nominal", "scale": {"domain": ["MR", "UTSA"], "range": ["#1b9e77", "#d95f02"]}, "legend": {"title": "locGroup", "orient": "none", "legendX": 334, "legendY": 66, "symbolType": "M-1,-1H1V1H-1Z M-0.8,-0.8V0.8H0.8V-0.8Z M-0.23,0A0.23,0.23 0 1,1 0.23,0A0.23,0.23 0 1,1 -0.23,0Z", "symbolSize": 177, "symbolStrokeWidth": 0, "rowPadding": 3.4, "titlePadding": 5, "labelOffset": 7}},
                    "shape": {"field": "h", "type": "nominal", "scale": {"domain": ["natural", "urban"], "range": ["circle", "triangle-up"]}, "legend": {"title": "habitatType", "orient": "none", "legendX": 334, "legendY": 135, "symbolSize": 18, "symbolFillColor": "#000000", "symbolStrokeColor": "#000000", "symbolStrokeWidth": 0, "rowPadding": 7, "titlePadding": 8, "symbolOffset": 3, "labelOffset": 8}}
                  }
                },
                {
                  "data": {"name": "sas_ell"},
                  "mark": {"type": "line", "interpolate": "cardinal-closed", "strokeWidth": 1.3, "clip": true},
                  "encoding": {
                    "x": {"field": "x", "type": "quantitative", "scale": {"domain": [-2.137, 2.491], "nice": false, "zero": false}, "axis": {"orient": "top", "values": [-1.5, -0.5, 0.5, 1.5], "labels": false, "ticks": false, "domain": false, "title": null, "gridColor": "#f2f2f2", "gridWidth": 0.7}},
                    "y": {"field": "y", "type": "quantitative", "scale": {"domain": [-2.643, 3.905], "nice": false, "zero": false}, "axis": {"orient": "right", "values": [-1, 1, 3], "labels": false, "ticks": false, "domain": false, "title": null, "gridColor": "#f2f2f2", "gridWidth": 0.7}},
                    "stroke": {"field": "g", "type": "nominal", "scale": {"domain": ["MR", "UTSA"], "range": ["#1b9e77", "#d95f02"]}, "legend": null},
                    "detail": {"field": "g"},
                    "order": {"field": "i", "type": "quantitative"}
                  }
                }
              ]
            },
            {
              "width": 28, "height": 277, "view": {"stroke": null},
              "data": {"name": "sas_box"},
              "transform": [{"filter": "datum.ax === 'MDS2'"}],
              "encoding": {"x": {"field": "h", "type": "nominal", "scale": {"type": "band", "domain": ["natural", "urban"], "paddingInner": 0, "paddingOuter": 0}, "axis": null}},
              "layer": [
                {"mark": {"type": "rule", "color": "#333333", "strokeWidth": 0.8}, "encoding": {"y": {"field": "lo", "type": "quantitative", "scale": {"domain": [-2.643, 3.905], "nice": false, "zero": false}, "axis": null}, "y2": {"field": "hi"}}},
                {"mark": {"type": "bar", "size": 11, "stroke": "#000000", "strokeWidth": 0.8}, "encoding": {"y": {"field": "q1", "type": "quantitative", "scale": {"domain": [-2.643, 3.905], "nice": false, "zero": false}, "axis": null}, "y2": {"field": "q3"}, "fill": {"field": "h", "type": "nominal", "scale": {"domain": ["natural", "urban"], "range": ["#0000ff", "#ff0000"]}, "legend": null}}},
                {"mark": {"type": "tick", "color": "#000000", "size": 11, "thickness": 1.4}, "encoding": {"y": {"field": "med", "type": "quantitative", "scale": {"domain": [-2.643, 3.905], "nice": false, "zero": false}, "axis": null}}},
                {"data": {"name": "sas_out"}, "transform": [{"filter": "datum.ax === 'MDS2'"}], "mark": {"type": "circle", "color": "#000000", "size": 12, "opacity": 1}, "encoding": {"y": {"field": "v", "type": "quantitative", "scale": {"domain": [-2.643, 3.905], "nice": false, "zero": false}, "axis": null}}}
              ]
            }
          ],
          "spacing": 3, "bounds": "flush",
          "resolve": {"scale": {"x": "independent", "y": "independent", "color": "independent", "shape": "independent", "stroke": "independent", "fill": "independent"}}
        }
      ],
      "spacing": 3,
      "resolve": {"scale": {"x": "independent", "y": "independent", "color": "independent", "shape": "independent", "stroke": "independent", "fill": "independent"}}
    }
  ],
  "spacing": 15, "center": true,
  "resolve": {"scale": {"x": "independent", "y": "independent", "color": "independent", "shape": "independent", "stroke": "independent", "fill": "independent"}}
}
